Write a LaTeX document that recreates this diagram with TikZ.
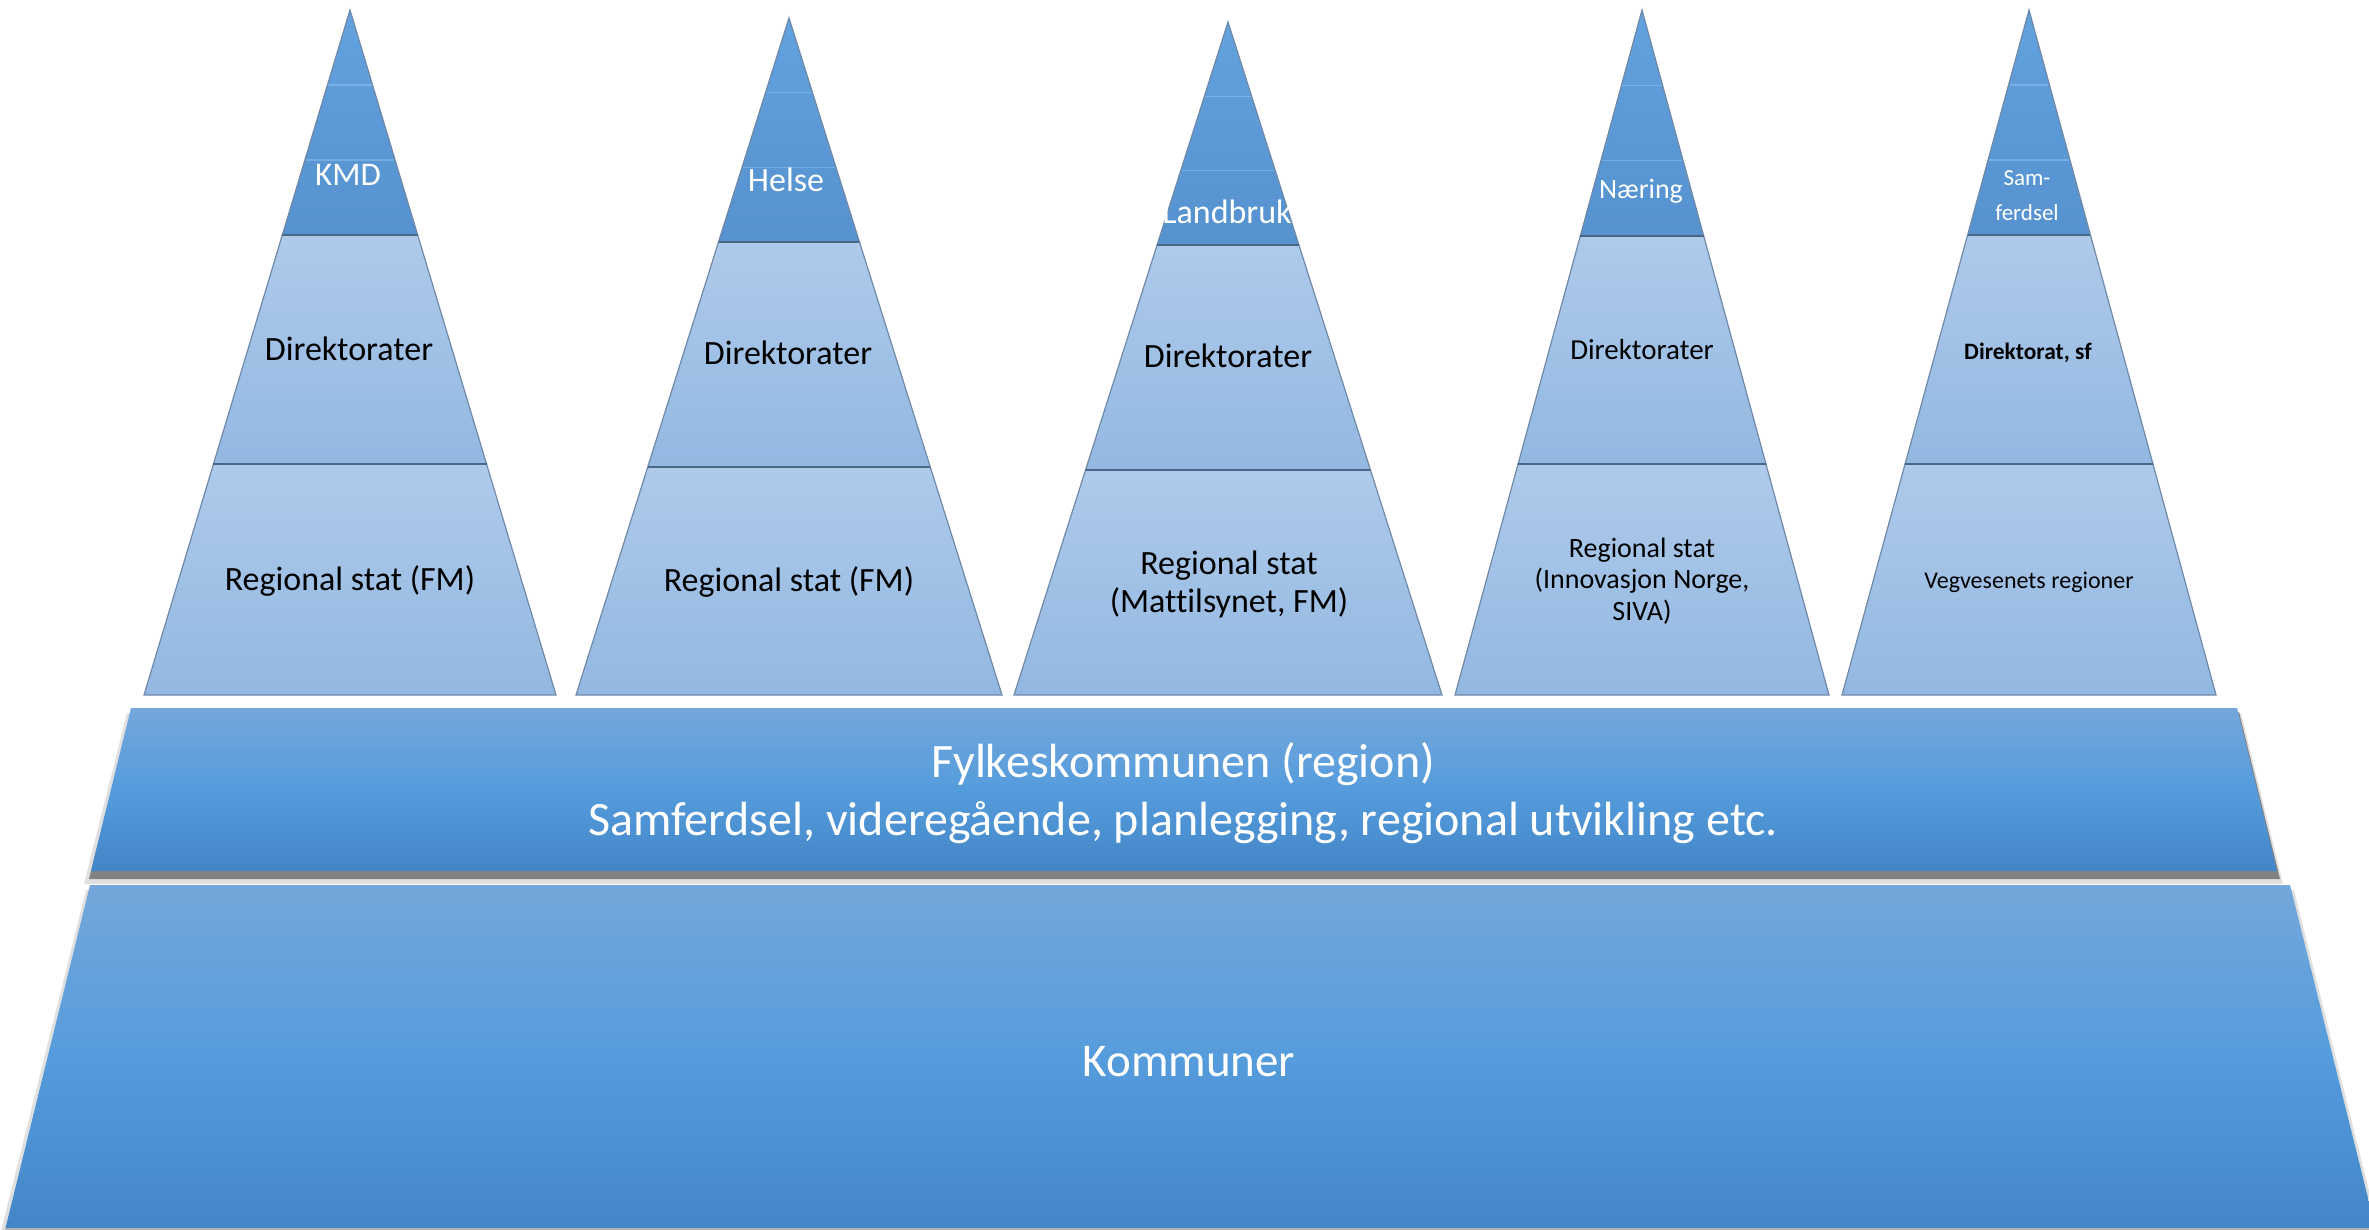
\documentclass[tikz,border=0pt]{standalone}
\usepackage{fontspec}
\setmainfont{Carlito}[Ligatures={NoCommon}]
\definecolor{tierTopA}{HTML}{62A2DE}
\definecolor{tierTopB}{HTML}{5592CF}
\definecolor{tierMidA}{HTML}{AECAEB}
\definecolor{tierMidB}{HTML}{93B8E1}
\definecolor{tierEdge}{HTML}{7089A8}
\definecolor{tierSep}{HTML}{4B6786}
\definecolor{tierFaint}{HTML}{8FC0EC}
\definecolor{barA}{HTML}{74A7DB}
\definecolor{barM}{HTML}{559CDC}
\definecolor{barB}{HTML}{4386C8}
\tikzset{
  toptier/.style={top color=tierTopA, bottom color=tierTopB, draw=tierEdge, line width=1.2pt},
  midtier/.style={top color=tierMidA, bottom color=tierMidB, draw=tierEdge, line width=1.2pt},
  septier/.style={draw=tierSep, line width=2pt},
  faint/.style={draw=tierFaint, draw opacity=0.55, line width=1.5pt},
  barbox/.style={top color=barA, bottom color=barB, middle color=barM},
  shadowA/.style={fill=black, fill opacity=0.42},
  shadowB/.style={fill=black, fill opacity=0.12},
  toplabel/.style={text=white, anchor=mid, inner sep=0pt},
  tierlabel/.style={text=black, anchor=mid, inner sep=0pt},
  tierlabelml/.style={text=black, anchor=center, align=center, inner sep=0pt},
  barlabel/.style={text=white, anchor=center, align=center, inner sep=0pt}
}
% #1 centre x, #2 apex y, #3 half width at y=695, #4 y of first divider, #5 y of second divider, #6 name
\newcommand\drawpyr[6]{%
  \pgfmathsetmacro\pslope{#3/(695-#2)}%
  \pgfmathsetmacro\pwa{\pslope*(#4-#2)}%
  \pgfmathsetmacro\pwb{\pslope*(#5-#2)}%
  \pgfmathsetmacro\pya{#2+(#4-#2)/3}%
  \pgfmathsetmacro\pyb{#2+2*(#4-#2)/3}%
  \pgfmathsetmacro\pwfa{\pslope*(\pya-#2)}%
  \pgfmathsetmacro\pwfb{\pslope*(\pyb-#2)}%
  \path[midtier] (#1-\pwb,#5) -- (#1+\pwb,#5) -- (#1+#3,695) -- (#1-#3,695) -- cycle;
  \path[midtier] (#1-\pwa,#4) -- (#1+\pwa,#4) -- (#1+\pwb,#5) -- (#1-\pwb,#5) -- cycle;
  \path[toptier] (#1,#2) -- (#1+\pwa,#4) -- (#1-\pwa,#4) -- cycle;
  \draw[faint] (#1-\pwfa+1,\pya) -- (#1+\pwfa-1,\pya);
  \draw[faint] (#1-\pwfb+1,\pyb) -- (#1+\pwfb-1,\pyb);
  \draw[septier] (#1-\pwa,#4) -- (#1+\pwa,#4);
  \draw[septier] (#1-\pwb,#5) -- (#1+\pwb,#5);
  \coordinate (#6-apex) at (#1,#2);
}
\begin{document}
\begin{tikzpicture}[x=1pt,y=-1pt]
\useasboundingbox (0,0) rectangle (2369,1230);
\fill[white] (0,0) rectangle (2369,1230);

% pyramids
\drawpyr{350}{10}{206}{235}{464}{p1}
\drawpyr{789}{18}{213}{242}{467}{p2}
\drawpyr{1228}{22}{214}{245}{470}{p3}
\drawpyr{1642}{10}{187}{236}{464}{p4}
\drawpyr{2029}{10}{187}{235}{464}{p5}

% shadows of the bars
\fill[shadowB] (127,713) -- (2241,713) -- (2283,884) -- (84,884) -- cycle;
\fill[shadowA] (131,712) -- (2239,712) -- (2280,879) -- (89,879) -- cycle;
\fill[shadowB] (86,890) -- (2294,890) -- (2380,1235) -- (0,1235) -- cycle;

% bars
\path[barbox] (131,708) -- (2237,708) -- (2277,871) -- (91,871) -- cycle;
\path[barbox] (90,885) -- (2290,885) -- (2376,1230) -- (5,1230) -- cycle;
\draw[gray!60, line width=2pt] (5,1229) -- (2376,1229);

% labels: pyramid 1
\node[toplabel, font=\fontsize{33}{40}\selectfont] (p1top) at (348,183) {KMD};
\node[tierlabel, font=\fontsize{34}{41}\selectfont] (p1mid) at (349,358) {Direktorater};
\node[tierlabel, font=\fontsize{34}{41}\selectfont] (p1low) at (350,588) {Regional stat (FM)};
% pyramid 2
\node[toplabel, font=\fontsize{34}{41}\selectfont] (p2top) at (786,189) {Helse};
\node[tierlabel, font=\fontsize{34}{41}\selectfont] (p2mid) at (788,362) {Direktorater};
\node[tierlabel, font=\fontsize{34}{41}\selectfont] (p2low) at (789,589) {Regional stat (FM)};
% pyramid 3
\node[toplabel, font=\fontsize{34}{41}\selectfont] (p3top) at (1227,221) {Landbruk};
\node[tierlabel, font=\fontsize{34}{41}\selectfont] (p3mid) at (1228,365) {Direktorater};
\node[tierlabelml, font=\fontsize{34}{38}\selectfont] (p3low) at (1229,584) {Regional stat\\(Mattilsynet, FM)};
% pyramid 4
\node[toplabel, font=\fontsize{28}{34}\selectfont] (p4top) at (1641,196) {Næring};
\node[tierlabel, font=\fontsize{29}{35}\selectfont] (p4mid) at (1642,357) {Direktorater};
\node[tierlabelml, font=\fontsize{28}{31.5}\selectfont] (p4low) at (1642,581) {Regional stat\\(Innovasjon Norge,\\SIVA)};
% pyramid 5
\node[text=white, anchor=center, align=center, inner sep=0pt, font=\fontsize{23}{35}\selectfont] (p5top) at (2027,196) {Sam-\\ferdsel};
\node[tierlabel, font=\bfseries\fontsize{23.5}{30}\selectfont] (p5mid) at (2028,357) {Direktorat, sf};
\node[tierlabel, font=\fontsize{24}{30}\selectfont] (p5low) at (2029,586) {Vegvesenets regioner};

% bar labels
\node[barlabel, font=\fontsize{48}{58}\selectfont] (fylke) at (1183,793) {Fylkeskommunen (region)\\Samferdsel, videregående, planlegging, regional utvikling etc.};
\node[barlabel, font=\fontsize{47}{56}\selectfont] (kommuner) at (1189,1062) {Kommuner};
\end{tikzpicture}
\end{document}
